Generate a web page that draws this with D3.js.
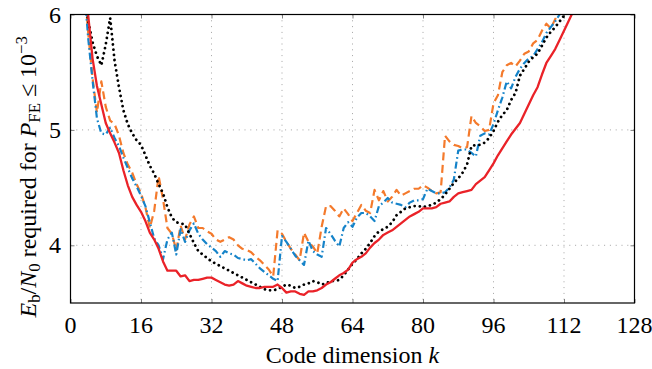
<!DOCTYPE html>
<html>
<head>
<meta charset="utf-8">
<script src="https://cdn.jsdelivr.net/npm/d3@7"></script>
<style>
  body { margin: 0; background: #fff; }
  svg { display: block; }
  text { font-family: "Liberation Serif", "DejaVu Serif", serif; }
</style>
</head>
<body>
<svg width="652" height="369"></svg>
<script>
const width = 652
const height = 369

// x ticks / y ticks
const xTicks = [0, 16, 32, 48, 64, 80, 96, 112, 128]
const yTicks = [4, 5, 6]

// all series start at k = 3 and go up one step at a time
const startK = 3

// red solid
const redVals = [
	6.35, 6.00, 5.62, 5.38, 5.22, 5.06, 4.97, 4.89, 4.80, 4.65,   // k 3-12
	4.52, 4.42, 4.35, 4.29, 4.21, 4.11, 4.05, 3.97, 3.86, 3.78,   // k 13-22
	3.78, 3.78, 3.73, 3.74, 3.69, 3.70, 3.70, 3.71, 3.72, 3.72,   // k 23-32
	3.70, 3.68, 3.66, 3.65, 3.66, 3.69, 3.67, 3.65, 3.64, 3.63,   // k 33-42
	3.63, 3.64, 3.64, 3.64, 3.66, 3.63, 3.59, 3.60, 3.60, 3.58,   // k 43-52
	3.57, 3.60, 3.60, 3.61, 3.63, 3.66, 3.68, 3.71, 3.74, 3.76,   // k 53-62
	3.79, 3.85, 3.88, 3.90, 3.93, 3.98, 4.02, 4.05, 4.09, 4.11,   // k 63-72
	4.13, 4.16, 4.19, 4.22, 4.25, 4.27, 4.29, 4.32, 4.32, 4.32,   // k 73-82
	4.33, 4.36, 4.37, 4.38, 4.42, 4.45, 4.46, 4.47, 4.48, 4.53,   // k 83-92
	4.56, 4.59, 4.65, 4.71, 4.78, 4.84, 4.90, 4.96, 5.01, 5.06,   // k 93-102
	5.14, 5.22, 5.30, 5.37, 5.48, 5.58, 5.64, 5.70, 5.78, 5.86,   // k 103-112
	5.94, 6.02                                                    // k 113-114
]

// black dotted
const blackVals = [
	6.20, 5.95, 5.76, 5.64, 5.56, 5.74, 5.97, 5.60, 5.37, 5.17,   // k 3-12
	5.05, 4.97, 4.91, 4.87, 4.78, 4.69, 4.62, 4.53, 4.45, 4.33,   // k 13-22
	4.24, 4.20, 4.19, 4.18, 4.10, 4.02, 3.95, 3.92, 3.89, 3.86,   // k 23-32
	3.84, 3.82, 3.80, 3.78, 3.76, 3.74, 3.72, 3.70, 3.68, 3.66,   // k 33-42
	3.64, 3.62, 3.61, 3.61, 3.62, 3.64, 3.66, 3.65, 3.63, 3.64,   // k 43-52
	3.66, 3.67, 3.69, 3.68, 3.66, 3.67, 3.69, 3.69, 3.70, 3.74,   // k 53-62
	3.79, 3.84, 3.88, 3.93, 3.97, 4.02, 4.08, 4.12, 4.14, 4.16,   // k 63-72
	4.20, 4.26, 4.29, 4.32, 4.33, 4.34, 4.34, 4.33, 4.34, 4.35,   // k 73-82
	4.37, 4.40, 4.44, 4.49, 4.54, 4.58, 4.63, 4.70, 4.86, 4.87,   // k 83-92
	4.87, 4.89, 4.93, 4.99, 5.07, 5.13, 5.17, 5.26, 5.32, 5.47,   // k 93-102
	5.53, 5.59, 5.63, 5.66, 5.73, 5.80, 5.85, 5.89, 5.94, 5.99,   // k 103-112
	6.03                                                          // k 113
]

// orange dashed
const orangeVals = [
	6.30, 5.85, 5.45, 5.15, 5.42, 5.20, 5.08, 5.05, 4.95, 4.80,   // k 3-12
	4.70, 4.63, 4.53, 4.45, 4.33, 4.15, 4.30, 4.60, 4.40, 4.15,   // k 13-22
	4.10, 3.96, 4.17, 4.05, 4.18, 4.25, 4.15, 4.15, 4.12, 4.10,   // k 23-32
	4.05, 4.03, 4.05, 4.07, 4.05, 4.00, 3.97, 3.96, 3.94, 3.90,   // k 33-42
	3.87, 3.83, 3.79, 3.73, 4.13, 4.10, 4.03, 3.97, 3.92, 3.87,   // k 43-52
	4.11, 4.03, 3.99, 3.93, 4.16, 4.34, 4.34, 4.30, 4.25, 4.32,   // k 53-62
	4.27, 4.21, 4.28, 4.35, 4.30, 4.28, 4.48, 4.39, 4.47, 4.38,   // k 63-72
	4.42, 4.48, 4.43, 4.45, 4.47, 4.49, 4.49, 4.52, 4.50, 4.47,   // k 73-82
	4.45, 4.46, 4.95, 4.90, 4.87, 4.86, 4.84, 4.85, 5.12, 5.06,   // k 83-92
	5.03, 4.99, 5.00, 5.23, 5.30, 5.50, 5.56, 5.58, 5.55, 5.60,   // k 93-102
	5.66, 5.68, 5.75, 5.78, 5.86, 5.92, 5.88, 5.96, 6.02          // k 103-111
]

// blue dash-dot
const blueVals = [
	6.30, 5.80, 5.43, 5.10, 4.97, 4.96, 5.02, 4.93, 4.86, 4.76,   // k 3-12
	4.67, 4.58, 4.51, 4.43, 4.34, 4.20, 4.06, 4.00, 3.88, 4.05,   // k 13-22
	4.11, 3.92, 4.14, 4.03, 4.13, 4.19, 4.10, 4.05, 4.01, 3.98,   // k 23-32
	3.95, 3.90, 3.95, 3.93, 3.92, 3.89, 3.88, 3.87, 3.88, 3.84,   // k 33-42
	3.80, 3.77, 3.74, 3.71, 3.69, 4.08, 4.03, 3.97, 3.91, 3.87,   // k 43-52
	3.83, 4.04, 3.95, 3.92, 3.90, 4.15, 4.10, 4.04, 3.99, 4.15,   // k 53-62
	4.20, 4.16, 4.24, 4.28, 4.28, 4.25, 4.21, 4.34, 4.37, 4.41,   // k 63-72
	4.37, 4.36, 4.35, 4.33, 4.37, 4.39, 4.39, 4.40, 4.49, 4.47,   // k 73-82
	4.45, 4.45, 4.46, 4.50, 4.57, 4.82, 4.83, 4.83, 4.80, 4.77,   // k 83-92
	4.95, 4.97, 4.96, 5.05, 5.17, 5.28, 5.42, 5.36, 5.46, 5.53,   // k 93-102
	5.58, 5.62, 5.64, 5.70, 5.76, 5.84, 5.89, 5.94, 6.00, 6.04    // k 103-112
]

const series = [
	{ vals: orangeVals, color: "#f47a2c", dash: "8,4.5", cap: "butt", w: 2.2 },
	{ vals: blueVals, color: "#1583c9", dash: "7,3,1.6,3", cap: "butt", w: 2.2 },
	{ vals: blackVals, color: "#000", dash: "0.01,5.2", cap: "round", w: 2.8 },
	{ vals: redVals, color: "#ea2228", dash: null, cap: "round", w: 2.3 }
]

const pLeft = 70.5, pRight = 634.5, pTop = 14.5, pBottom = 303
const serif = "'Liberation Serif', 'DejaVu Serif', serif"

const xScale = d3.scaleLinear().domain([0, 128]).range([pLeft, pRight])
const yScale = d3.scaleLinear().domain([3.5, 6]).range([pBottom, pTop])

const svg = d3.select("svg")

svg.append("clipPath").attr("id", "plotClip")
	.append("rect")
	.attr("x", pLeft).attr("y", pTop)
	.attr("width", pRight - pLeft).attr("height", pBottom - pTop)

// dotted grid
svg.append("g").selectAll("line")
	.data(xTicks.slice(1, -1))
	.enter().append("line")
	.attr("x1", d => xScale(d)).attr("x2", d => xScale(d))
	.attr("y1", pTop).attr("y2", pBottom)
	.attr("stroke", "#9a9a9a").attr("stroke-width", 0.9)
	.attr("stroke-dasharray", "1,4.8")

svg.append("g").selectAll("line")
	.data(yTicks.slice(0, -1))
	.enter().append("line")
	.attr("x1", pLeft).attr("x2", pRight)
	.attr("y1", d => yScale(d)).attr("y2", d => yScale(d))
	.attr("stroke", "#9a9a9a").attr("stroke-width", 0.9)
	.attr("stroke-dasharray", "1,4.8")

// inward ticks on all four sides
const tickLen = 4
const xAxisB = d3.axisBottom(xScale).tickValues(xTicks).tickSize(-tickLen).tickFormat("")
const xAxisT = d3.axisTop(xScale).tickValues(xTicks).tickSize(-tickLen).tickFormat("")
const yAxisL = d3.axisLeft(yScale).tickValues(yTicks).tickSize(-tickLen).tickFormat("")
const yAxisR = d3.axisRight(yScale).tickValues(yTicks).tickSize(-tickLen).tickFormat("")

svg.append("g").attr("transform", `translate(0,${pBottom})`).call(xAxisB)
svg.append("g").attr("transform", `translate(0,${pTop})`).call(xAxisT)
svg.append("g").attr("transform", `translate(${pLeft},0)`).call(yAxisL)
svg.append("g").attr("transform", `translate(${pRight},0)`).call(yAxisR)
svg.selectAll(".domain").remove()
svg.selectAll(".tick line").attr("stroke", "#808080").attr("stroke-width", 1)

// curves
const line = d3.line()
	.x((d, i) => xScale(startK + i))
	.y(d => yScale(d))

const curves = svg.append("g").attr("clip-path", "url(#plotClip)")
series.map(s => {
	curves.append("path")
		.datum(s.vals)
		.attr("d", line)
		.attr("fill", "none")
		.attr("stroke", s.color)
		.attr("stroke-width", s.w)
		.attr("stroke-dasharray", s.dash)
		.attr("stroke-linecap", s.cap)
		.attr("stroke-linejoin", "round")
})

// frame
svg.append("rect")
	.attr("x", pLeft).attr("y", pTop)
	.attr("width", pRight - pLeft).attr("height", pBottom - pTop)
	.attr("fill", "none").attr("stroke", "#000").attr("stroke-width", 1.2)

// tick labels
const fs = 24
svg.append("g").selectAll("text")
	.data(xTicks)
	.enter().append("text")
	.attr("x", d => xScale(d))
	.attr("y", 333)
	.attr("text-anchor", "middle")
	.attr("font-family", serif)
	.attr("font-size", fs)
	.text(d => d)

svg.append("g").selectAll("text")
	.data(yTicks)
	.enter().append("text")
	.attr("x", 61)
	.attr("y", d => yScale(d) + 8)
	.attr("text-anchor", "end")
	.attr("font-family", serif)
	.attr("font-size", fs)
	.text(d => d)

// x label
const xl = svg.append("text")
	.attr("x", (pLeft + pRight) / 2)
	.attr("y", 363)
	.attr("text-anchor", "middle")
	.attr("font-family", serif)
	.attr("font-size", fs)
xl.append("tspan").text("Code dimension ")
xl.append("tspan").attr("font-style", "italic").text("k")

// y label
const yl = svg.append("text")
	.attr("transform", `translate(36,${(pTop + pBottom) / 2 + 18}) rotate(-90)`)
	.attr("text-anchor", "middle")
	.attr("font-family", serif)
	.attr("font-size", fs)
const sub = fs * 0.7
yl.append("tspan").attr("font-style", "italic").text("E")
yl.append("tspan").attr("font-size", sub).attr("dy", 4).text("b")
yl.append("tspan").attr("dy", -4).text("/")
yl.append("tspan").attr("font-style", "italic").text("N")
yl.append("tspan").attr("font-size", sub).attr("dy", 4).text("0")
yl.append("tspan").attr("dy", -4).text(" required for ")
yl.append("tspan").attr("font-style", "italic").text("P")
yl.append("tspan").attr("font-size", sub).attr("dy", 4).text("FE")
yl.append("tspan").attr("dy", -4).text(" \u2264 10")
yl.append("tspan").attr("font-size", sub).attr("dy", -9).text("\u22123")
</script>
</body>
</html>
